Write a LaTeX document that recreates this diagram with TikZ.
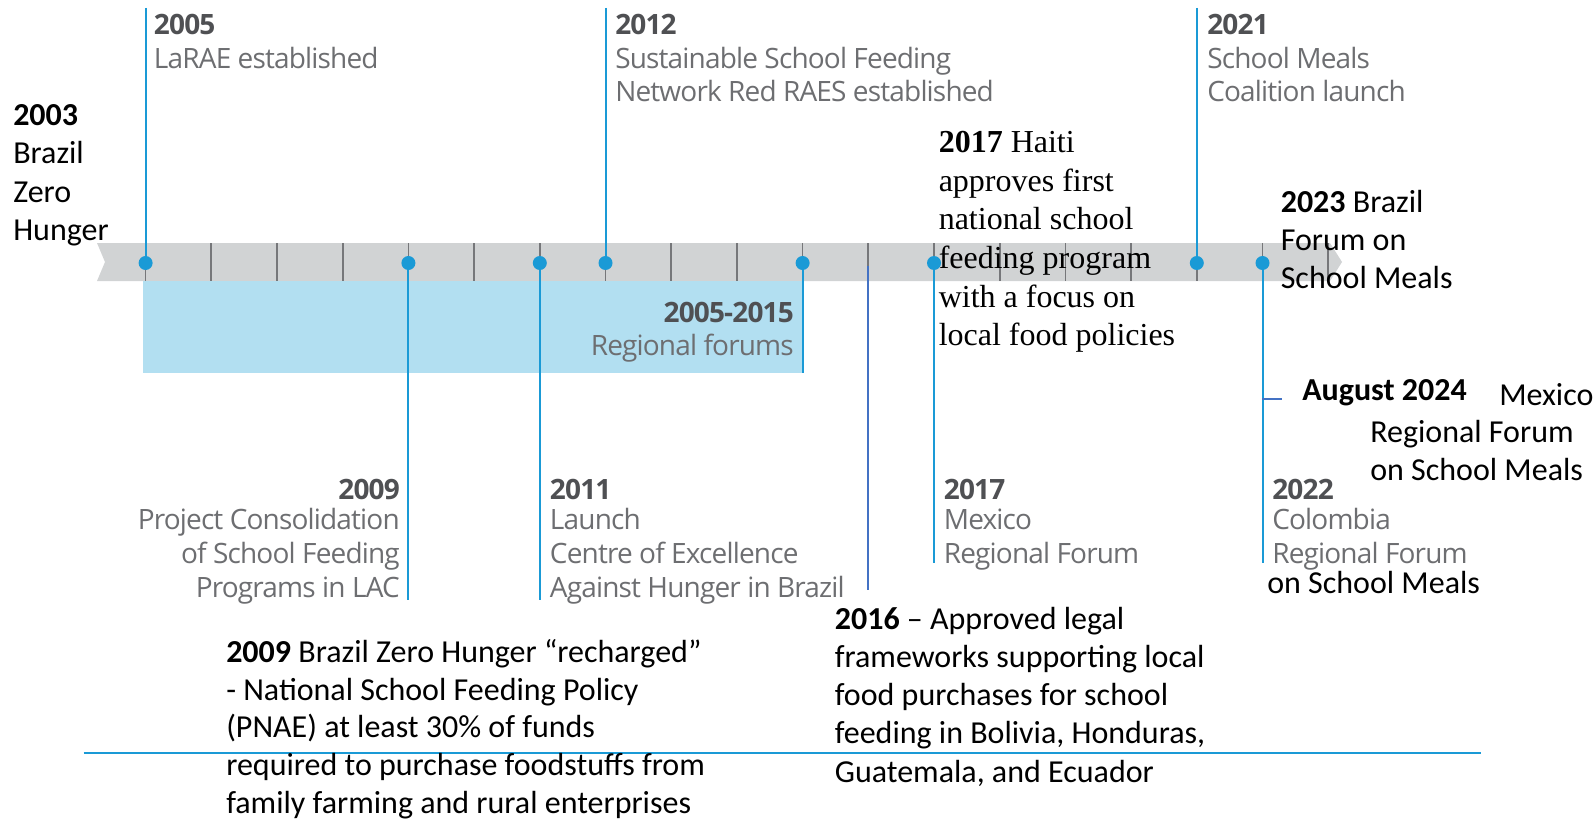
\documentclass[tikz,border=0pt]{standalone}
\usepackage{fontspec}
\setmainfont{Carlito}
\newfontfamily\grayfont[LetterSpace=-3.0]{Open Sans}
\newfontfamily\timesfont{Liberation Serif}
\definecolor{tlblue}{HTML}{1A9AD6}
\definecolor{boxblue}{HTML}{B2DFF1}
\definecolor{bandgray}{HTML}{D1D3D4}
\definecolor{tickgray}{HTML}{76777A}
\definecolor{infotext}{HTML}{6D6E71}
\definecolor{infoyear}{HTML}{4F5053}
\definecolor{darkline}{HTML}{4472C4}
\begin{document}
\begin{tikzpicture}[x=0.75pt,y=-0.75pt,
  calib/.style={font=\fontsize{24}{28.6}\selectfont, align=left, inner sep=0pt, anchor=north west, text=black},
  serifbox/.style={font=\timesfont\fontsize{24}{29}\selectfont, align=left, inner sep=0pt, anchor=north west, text=black},
  info/.style={font=\grayfont\fontsize{21}{25.2}\selectfont, align=left, inner sep=0pt, anchor=north west, text=infotext},
  inforight/.style={info, align=right, anchor=north east},
  bluel/.style={draw=tlblue, line width=1.5pt},
  darkl/.style={draw=darkline, line width=1.5pt},
  dotnode/.style={circle, fill=tlblue, inner sep=0pt, minimum size=10.5pt},
  tickline/.style={draw=tickgray, line width=1.3pt}]
\useasboundingbox (0,0) rectangle (1596,820);
% band
\fill[bandgray] (97,243) -- (1330,243) -- (1342,262) -- (1330,281) -- (97,281) -- (105,262) -- cycle;
% regional forums box
\fill[boxblue] (142.5,281) rectangle (804,373);
% ticks
\foreach \yr in {2005,...,2023}
  \draw[tickline] ({145.6+65.7*(\yr-2005)},243) -- ++(0,38);
% year points
\foreach \yr in {2005,2009,2011,2012,2015,2017,2021,2022}
  \coordinate (p\yr) at ({145.6+65.7*(\yr-2005)},263);
\coordinate (p2016) at ({145.6+65.7*11},266);
% end points of connectors
\coordinate (t2005) at (p2005 |- 0,8);
\coordinate (t2012) at (p2012 |- 0,8);
\coordinate (t2021) at (p2021 |- 0,8);
\coordinate (b2009) at (p2009 |- 0,600);
\coordinate (b2011) at (p2011 |- 0,600);
\coordinate (b2015) at (p2015 |- 0,373);
\coordinate (b2016) at (p2016 |- 0,590);
\coordinate (b2017) at (p2017 |- 0,563);
\coordinate (b2022) at (p2022 |- 0,563);
\draw[bluel] (t2005) -- (p2005);
\draw[bluel] (t2012) -- (p2012);
\draw[bluel] (t2021) -- (p2021);
\draw[bluel] (p2009) -- (b2009);
\draw[bluel] (p2011) -- (b2011);
\draw[bluel] (p2015) -- (b2015);
\draw[bluel] (p2017) -- (b2017);
\draw[bluel] (p2022) -- (b2022);
\draw[darkl] (p2016) -- (b2016);
\coordinate (m1) at (1262,399);
\coordinate (m2) at (1282,399);
\draw[darkl] (m1) -- (m2);
\foreach \yr in {2005,2009,2011,2012,2015,2017,2021,2022}
  \node[dotnode] (d\yr) at (p\yr) {};
% bottom line
\coordinate (l1) at (83.5,753);
\coordinate (l2) at (1481,753);
\draw[draw=tlblue, line width=1.9pt] (l1) -- (l2);
% gray infographic texts
\node[info] (i2005) at (153.7,14) {{\color{infoyear}\bfseries 2005}\\LaRAE established};
\node[info] (i2012) at (615,14) {{\color{infoyear}\bfseries 2012}\\Sustainable School Feeding\\Network Red RAES established};
\node[info] (i2021) at (1207,14) {{\color{infoyear}\bfseries 2021}\\School Meals\\Coalition launch};
\node[inforight] (i0515) at (794,302) {{\color{infoyear}\bfseries 2005-2015}\\[-0.8pt]Regional forums};
\node[inforight] (i2009) at (400,479) {{\color{infoyear}\bfseries 2009}\\[-2.4pt]Project Consolidation\\of School Feeding\\Programs in LAC};
\node[info] (i2011) at (549.7,479) {{\color{infoyear}\bfseries 2011}\\[-2.4pt]Launch\\Centre of Excellence\\Against Hunger in Brazil};
\node[info] (i2017) at (943.6,479) {{\color{infoyear}\bfseries 2017}\\[-2.4pt]Mexico\\Regional Forum};
\node[info] (i2022) at (1272,479) {{\color{infoyear}\bfseries 2022}\\[-2.4pt]Colombia\\Regional Forum};
% added black texts
\node[calib, font=\fontsize{24}{28.8}\selectfont] (c2003) at (13,104) {\textbf{2003}\\Brazil\\Zero\\Hunger};
\node[serifbox] (s2017) at (938.5,131) {\textbf{2017} Haiti\\approves first\\national school\\feeding program\\with a focus on\\local food policies};
\node[calib] (c2023) at (1280.5,190) {\textbf{2023} Brazil\\Forum on\\School Meals};
\node[calib] (c2024a) at (1302,379) {\textbf{August 2024}};
\node[calib] (c2024b) at (1499,383) {Mexico};
\node[calib] (c2024c) at (1370,420) {Regional Forum\\on School Meals};
\node[calib] (c2022) at (1267,571) {on School Meals};
\node[calib] (c2016) at (834.6,607) {\textbf{2016} -- Approved legal\\frameworks supporting local\\food purchases for school\\feeding in Bolivia, Honduras,\\Guatemala, and Ecuador};
\node[calib, font=\fontsize{24}{28.3}\selectfont] (c2009) at (226,639) {\textbf{2009} Brazil Zero Hunger “recharged”\\- National School Feeding Policy\\(PNAE) at least 30\% of funds\\required to purchase foodstuffs from\\family farming and rural enterprises};
\end{tikzpicture}
\end{document}
